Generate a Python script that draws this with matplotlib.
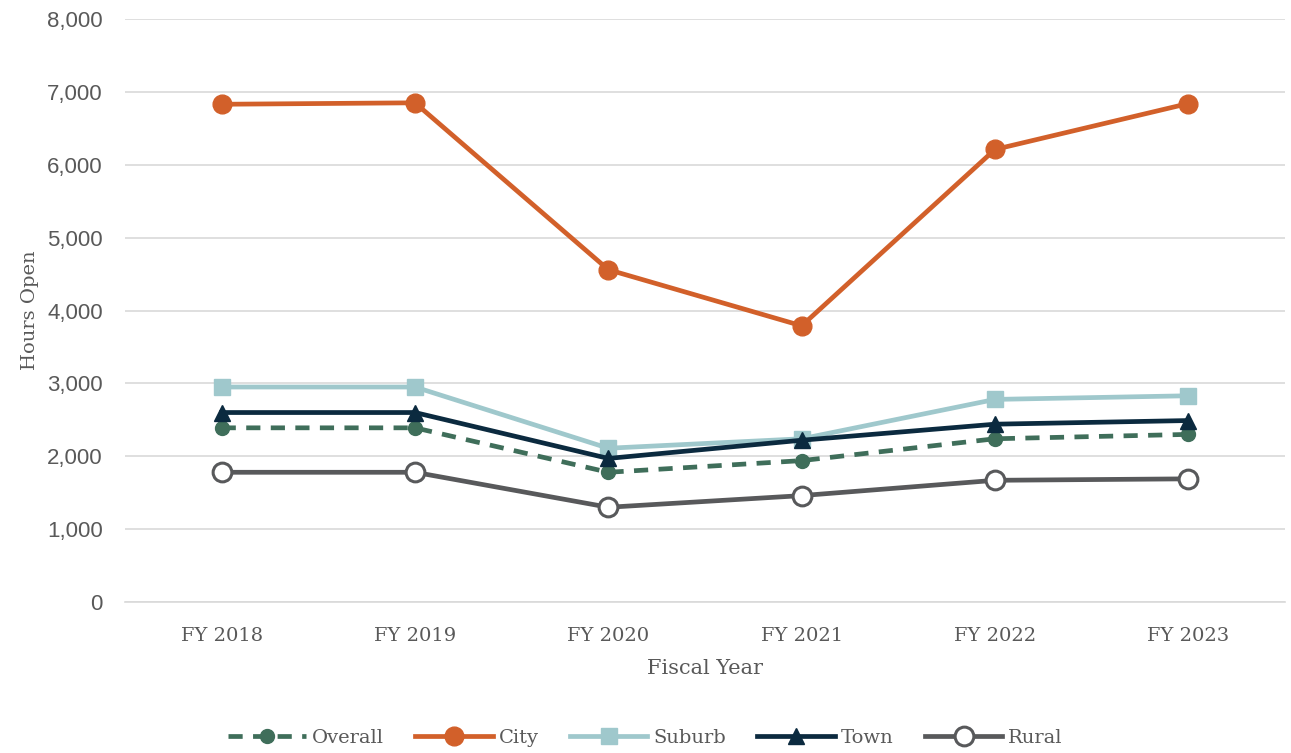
import matplotlib.pyplot as plt
from matplotlib.ticker import FuncFormatter

years = ["FY 2018", "FY 2019", "FY 2020", "FY 2021", "FY 2022", "FY 2023"]
yticks = [0, 1000, 2000, 3000, 4000, 5000, 6000, 7000, 8000]

overall = [2390, 2390, 1780, 1940, 2240, 2300]
city = [6830, 6850, 4560, 3790, 6210, 6840]
suburb = [2950, 2950, 2110, 2240, 2780, 2830]
town = [2600, 2600, 1970, 2220, 2440, 2490]
rural = [1780, 1780, 1300, 1460, 1670, 1690]

serif = "DejaVu Serif"
txt = "#595959"

fig = plt.figure(figsize=(12.91, 7.53), dpi=100)
ax = fig.add_axes([125 / 1291, 1 - 602 / 753, 1160 / 1291, 583 / 753])

x = range(len(years))
ax.plot(x, overall, color="#3F6E5A", lw=3.4, ls=(0, (3, 2.2)), marker="o", ms=10,
        label="Overall", zorder=3)
ax.plot(x, city, color="#D2602A", lw=3.4, marker="o", ms=13.5, label="City", zorder=3)
ax.plot(x, suburb, color="#9FC8CC", lw=3.4, marker="s", ms=12, label="Suburb", zorder=3)
ax.plot(x, town, color="#0B2A3F", lw=3.4, marker="^", ms=11, label="Town", zorder=4)
ax.plot(x, rural, color="#58595B", lw=3.4, marker="o", ms=13.5, mfc="white", mew=2.2,
        label="Rural", zorder=3)

ax.set_xlim(-0.5, 5.5)
ax.set_yticks(yticks)
ax.set_ylim(0, 8000)
ax.yaxis.set_major_formatter(FuncFormatter(lambda v, p: f"{int(v):,}"))
ax.grid(axis="y", color="#D9D9D9", lw=1.2)
ax.set_axisbelow(True)
for s in ["top", "right", "left"]:
    ax.spines[s].set_visible(False)
ax.spines["bottom"].set_color("#D9D9D9")
ax.spines["bottom"].set_linewidth(1.2)
ax.tick_params(length=0)
ax.tick_params(axis="y", pad=16, labelsize=16, labelcolor=txt)
for lab in ax.get_yticklabels():
    lab.set_fontfamily("Liberation Sans")

ax.set_xticks(list(x))
ax.set_xticklabels(years, fontfamily=serif, fontsize=14, color=txt)
ax.tick_params(axis="x", pad=18)

ax.set_xlabel("Fiscal Year", fontfamily=serif, fontsize=15, color=txt, labelpad=10)
ax.set_ylabel("Hours Open", fontfamily=serif, fontsize=14, color=txt, labelpad=6)

fig.legend(loc="center", bbox_to_anchor=(0.5, 1 - 738 / 753), ncol=5, frameon=False,
           handlelength=4, columnspacing=1.6, handletextpad=0.3,
           prop={"family": serif, "size": 14}, labelcolor=txt)

fig.savefig("out.png", dpi=100)
